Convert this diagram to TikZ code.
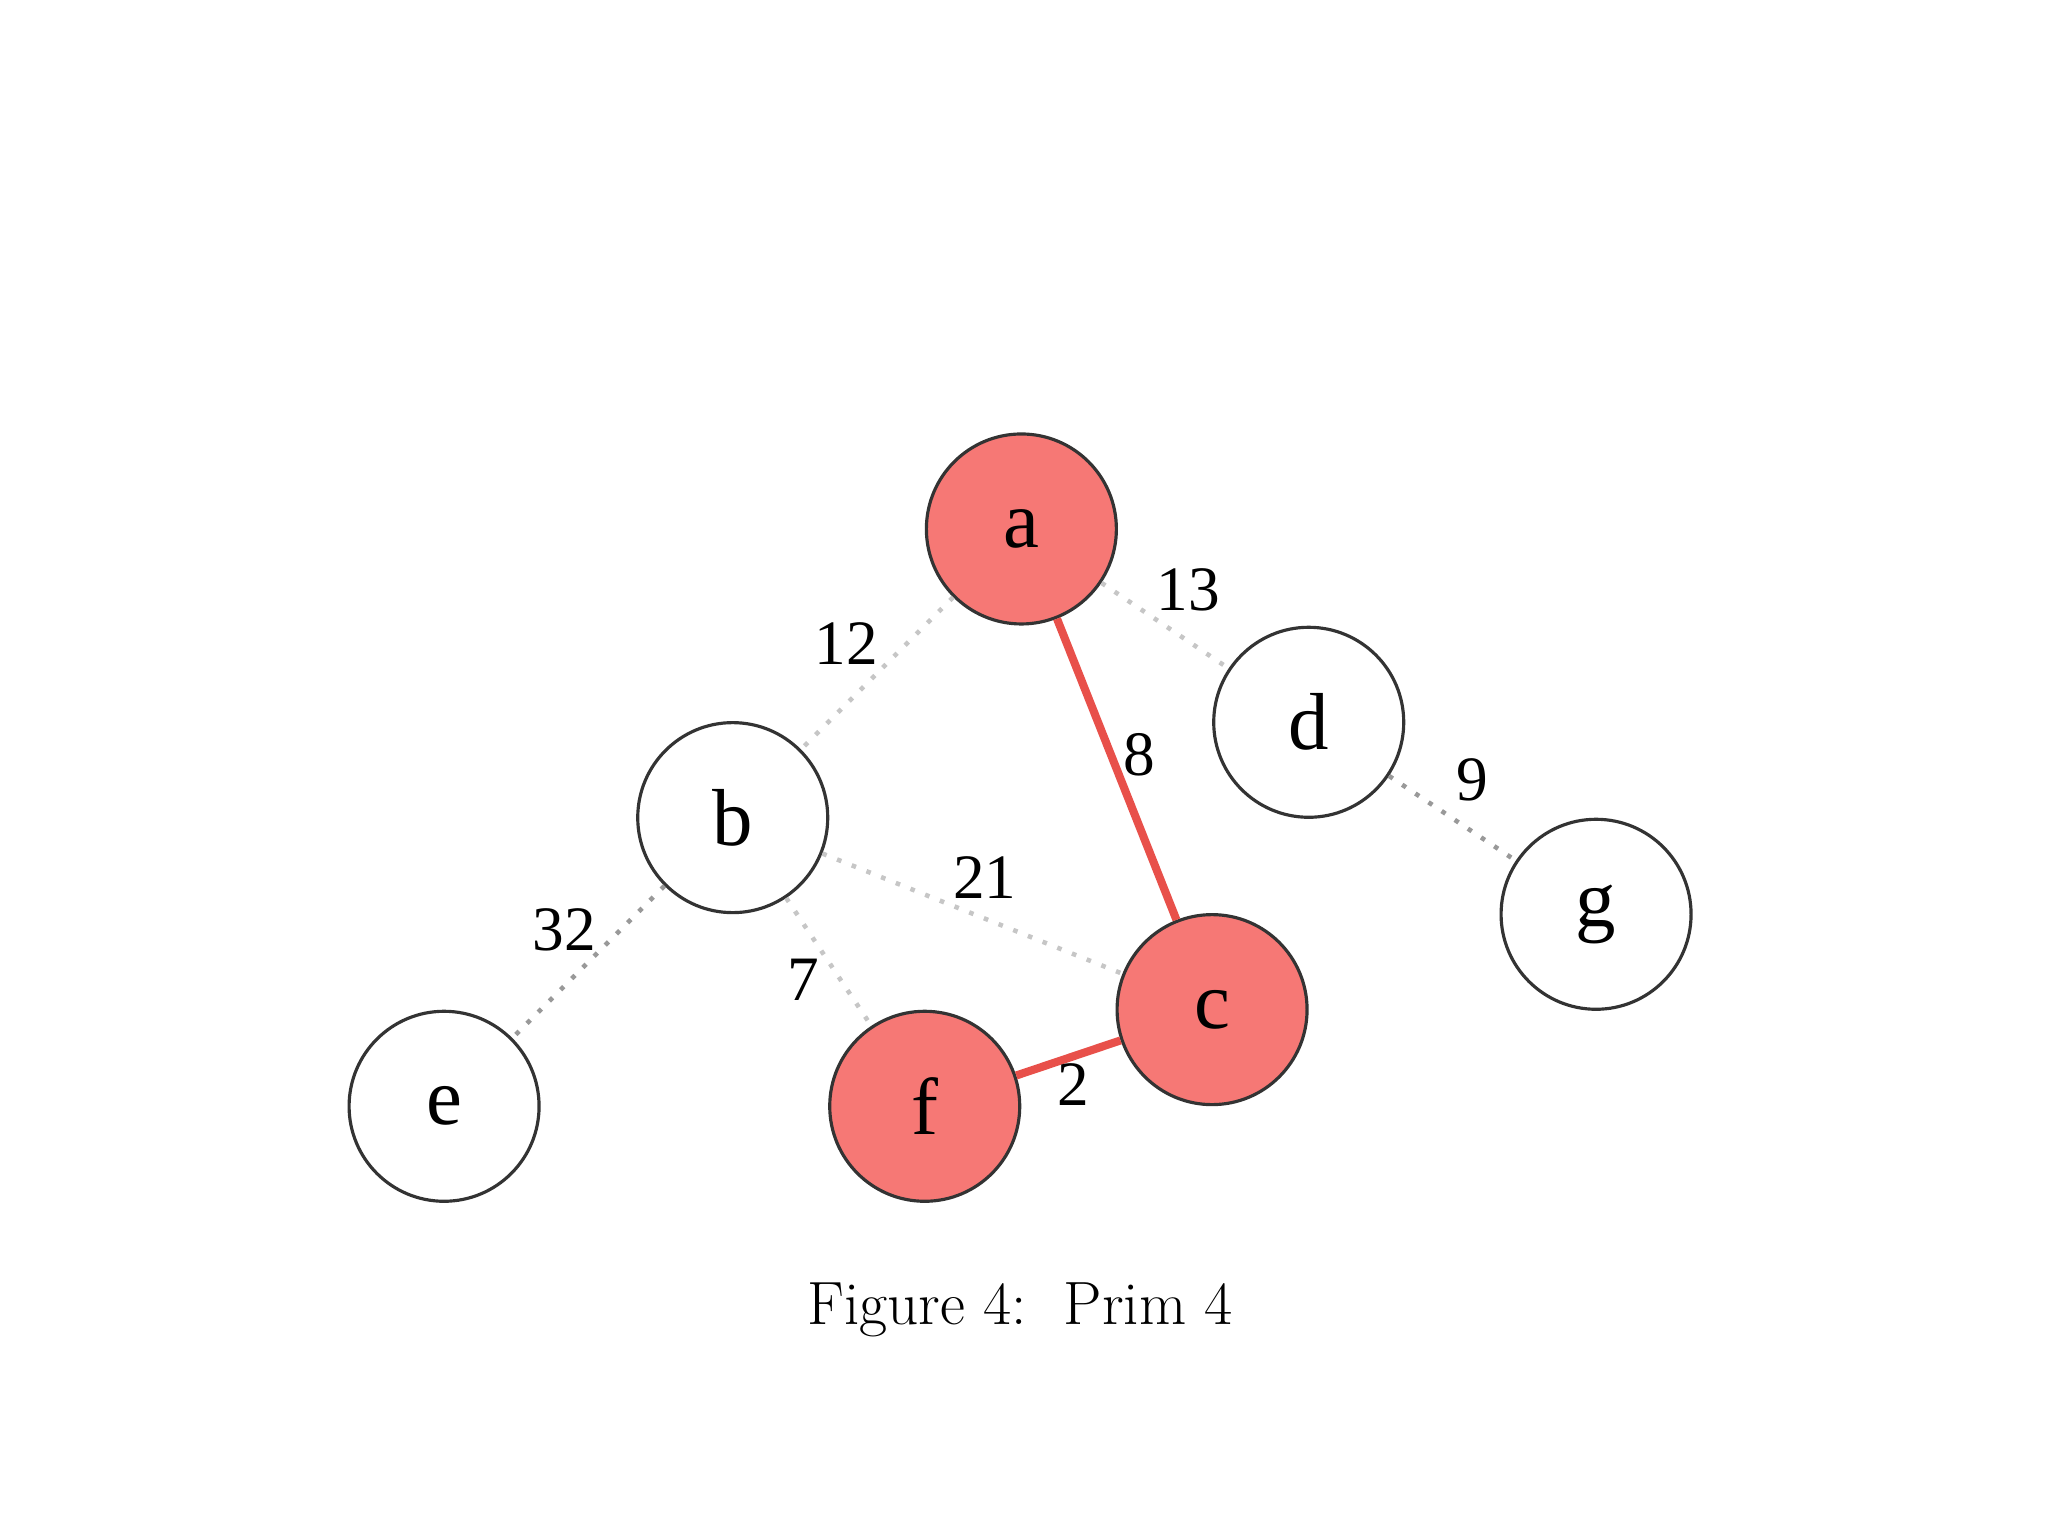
\documentclass[tikz,border=0pt]{standalone}
\usepackage{fontspec}
\newfontfamily\tnr{Liberation Serif}
\usetikzlibrary{positioning}
\definecolor{primfill}{RGB}{246,120,117}
\definecolor{primedge}{RGB}{232,80,74}
\tikzset{
  vtx/.style={circle, draw=black!80, line width=0.9pt, fill=white, minimum size=1.9cm, inner sep=0pt, font=\tnr\fontsize{23}{26}\selectfont},
  intree/.style={vtx, fill=primfill},
  cand/.style={gray!45, line width=1.3pt, dash pattern=on 1.3pt off 3.2pt},
  cand dark/.style={gray!80, line width=1.3pt, dash pattern=on 1.3pt off 3.2pt},
  chosen/.style={primedge, line width=2.3pt},
  wt/.style={font=\tnr\fontsize{18}{20}\selectfont, inner sep=1pt}
}
\begin{document}
\begin{tikzpicture}[x=0.01306cm, y=-0.01306cm]
\useasboundingbox (0,0) rectangle (1568,1176);
\node[intree] (a) at (782,405) {a};
\node[vtx] (d) at (1002,553) {d};
\node[vtx] (b) at (561,626) {b};
\node[vtx] (g) at (1222,700) {g};
\node[intree] (c) at (928,773) {c};
\node[vtx] (e) at (340,847) {e};
\node[intree] (f) at (708,847) {f};
\draw[cand] (a) -- (b);
\draw[cand] (a) -- (d);
\draw[cand] (b) -- (c);
\draw[cand] (b) -- (f);
\draw[cand dark] (b) -- (e);
\draw[cand dark] (d) -- (g);
\draw[chosen] (a) -- (c);
\draw[chosen] (c) -- (f);
\node[wt] (w12) at (648,493) {12};
\node[wt] (w13) at (910,452) {13};
\node[wt] (w8) at (872,578) {8};
\node[wt] (w9) at (1127,597) {9};
\node[wt] (w21) at (754,672) {21};
\node[wt] (w32) at (432,712) {32};
\node[wt] (w7) at (615,750) {7};
\node[wt] (w2) at (822,830) {2};
\node[font=\fontsize{17.4}{20}\selectfont] (cap) at (781,1003) {Figure 4:\ \ Prim 4};
\end{tikzpicture}
\end{document}
